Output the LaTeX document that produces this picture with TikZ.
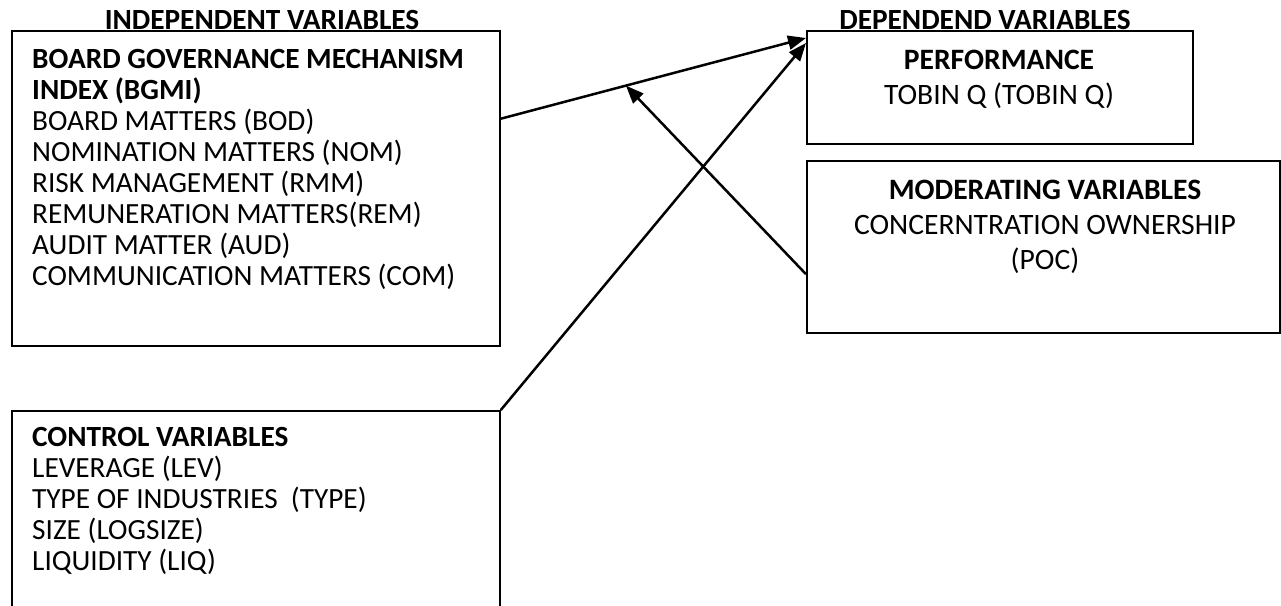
\documentclass[tikz,border=0pt]{standalone}
\usepackage{fontspec}
\setmainfont{Carlito}
\usetikzlibrary{arrows.meta,calc,positioning}
\tikzset{
  box/.style={draw, line width=1.8pt, anchor=north west, inner sep=0pt},
  smalltxt/.style={font=\fontsize{29.3}{31}\selectfont, align=left, inner sep=0pt, anchor=north west},
  bigtxt/.style={font=\fontsize{29.6}{35}\selectfont, align=center, inner sep=0pt, anchor=north},
  head/.style={font=\fontsize{29.3}{31}\selectfont\bfseries, inner sep=0pt, anchor=base},
  link/.style={->, line width=2.5pt},
}
\begin{document}
\begin{tikzpicture}[x=1pt, y=-1pt, >={Triangle[length=18pt,width=14pt]}]
\useasboundingbox (0,0) rectangle (1281,605);
% riquadri
\node[box, minimum width=488pt, minimum height=315pt] (bgmi) at (11,30) {};
\node[box, minimum width=386pt, minimum height=113pt] (perf) at (806,30) {};
\node[box, minimum width=473pt, minimum height=172pt] (mod) at (806,160) {};
\node[box, minimum width=488pt, minimum height=230pt] (ctrl) at (11,410) {};

% titoli sopra i riquadri
\node[head] (indep) at (262,29) {INDEPENDENT VARIABLES};
\node[head] (dep) at (985,29) {DEPENDEND VARIABLES};

% testi
\node[smalltxt] (bgmitxt) at (32,49) {\textbf{BOARD GOVERNANCE MECHANISM}\\
  \textbf{INDEX (BGMI)}\\
  BOARD MATTERS (BOD)\\
  NOMINATION MATTERS (NOM)\\
  RISK MANAGEMENT (RMM)\\
  REMUNERATION MATTERS(REM)\\
  AUDIT MATTER (AUD)\\
  COMMUNICATION MATTERS (COM)};
\node[smalltxt] (ctrltxt) at (32,427) {\textbf{CONTROL VARIABLES}\\
  LEVERAGE (LEV)\\
  TYPE OF INDUSTRIES~~(TYPE)\\
  SIZE (LOGSIZE)\\
  LIQUIDITY (LIQ)};
\node[bigtxt] (perftxt) at (999,50) {\textbf{PERFORMANCE}\\ TOBIN Q (TOBIN Q)};
\node[bigtxt] (modtxt) at (1045,180) {\textbf{MODERATING VARIABLES}\\
  CONCERNTRATION OWNERSHIP\\ (POC)};

% punti di attacco delle frecce
\coordinate (bgmiout) at ($(bgmi.north east)!0.28!(bgmi.south east)$);
\coordinate (perfin) at ([yshift=-8pt]perf.north west);
\coordinate (perfin2) at ([yshift=-13pt]perf.north west);
\coordinate (modout) at ($(mod.north west)!0.657!(mod.south west)$);
\coordinate (mid) at ($(bgmiout)!0.41!(perfin)$);

\draw[link] (bgmiout) -- (perfin);
\draw[link] (ctrl.north east) -- (perfin2);
\draw[link] (modout) -- (mid); % effetto moderatore
\end{tikzpicture}
\end{document}
